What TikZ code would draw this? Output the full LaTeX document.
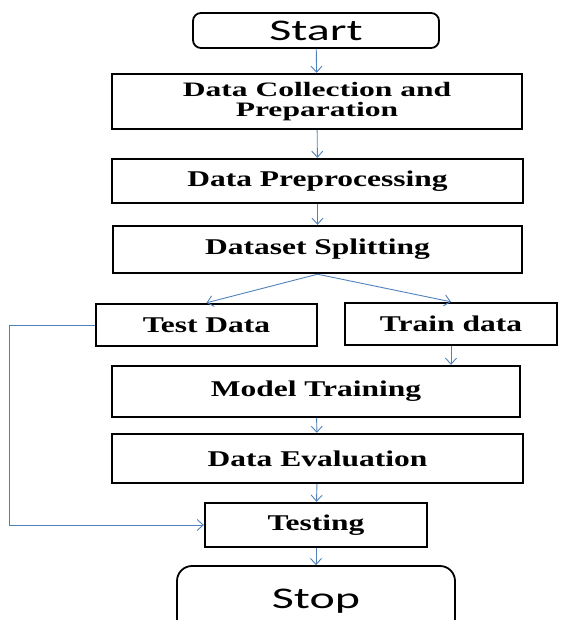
\documentclass[tikz,border=0pt]{standalone}
\usepackage{fontspec}
\usetikzlibrary{arrows.meta}
\newfontfamily\boxfont[FakeStretch=1.4]{Liberation Serif}
\newfontfamily\widefont[FakeStretch=1.54]{Liberation Serif}
\newfontfamily\endfont[FakeStretch=1.6]{Carlito}
\definecolor{flowblue}{RGB}{79,129,189}
\tikzset{
    procbox/.style={draw, line width=2.4pt, inner sep=0pt, align=center,
        font=\boxfont\bfseries\fontsize{22.5}{24}\selectfont},
    termbox/.style={draw, line width=1.8pt, inner sep=0pt,
        font=\endfont\fontsize{30}{31}\selectfont},
    flowarrow/.style={draw=flowblue, line width=0.9pt,
        -{Straight Barb[length=6pt, width=11pt]}}
}
\begin{document}
\begin{tikzpicture}[x=1pt, y=-1pt]
    % Page
    \clip (0,0) rectangle (560,620);
    % Terminals
    \node[termbox, rounded corners=8pt, minimum width=246, minimum height=35] (start) at (316,30.5) {Start};
    \node[termbox, rounded corners=15pt, minimum width=278, minimum height=70] (stop) at (316,601) {Stop};
    % Steps
    \node[procbox, minimum width=410, minimum height=55,
        font=\widefont\bfseries\fontsize{20.5}{20.5}\selectfont] (collect) at (317,101.5) {Data Collection and\\Preparation};
    \node[procbox, minimum width=411, minimum height=44] (prep) at (317.5,181) {Data Preprocessing};
    \node[procbox, minimum width=409, minimum height=47] (split) at (317.5,249.5) {Dataset Splitting};
    \node[procbox, minimum width=221, minimum height=42] (test) at (206.5,325) {Test Data};
    \node[procbox, minimum width=212, minimum height=42] (train) at (451,324) {Train data};
    \node[procbox, minimum width=408, minimum height=51] (model) at (316,391.5) {Model Training};
    \node[procbox, minimum width=411, minimum height=49] (eval) at (317.5,458.5) {Data Evaluation};
    \node[procbox, minimum width=222, minimum height=44] (testing) at (316,525) {Testing};
    \coordinate (back) at (9.5,325);

    % Arrows
    \draw[flowarrow] (start) -- (collect);
    \draw[flowarrow] (collect) -- (prep);
    \draw[flowarrow] (prep) -- (split);
    \draw[flowarrow] (split.south) -- (test.north);
    \draw[flowarrow] (split.south) -- (train.north);
    \draw[flowarrow] (train.south) -- (train.south |- model.north);
    \draw[flowarrow] (model) -- (eval);
    \draw[flowarrow] (eval) -- (testing);
    \draw[flowarrow] (testing) -- (stop);
    \draw[flowarrow] (test.west) -- (back) |- (testing.west);
\end{tikzpicture}
\end{document}
